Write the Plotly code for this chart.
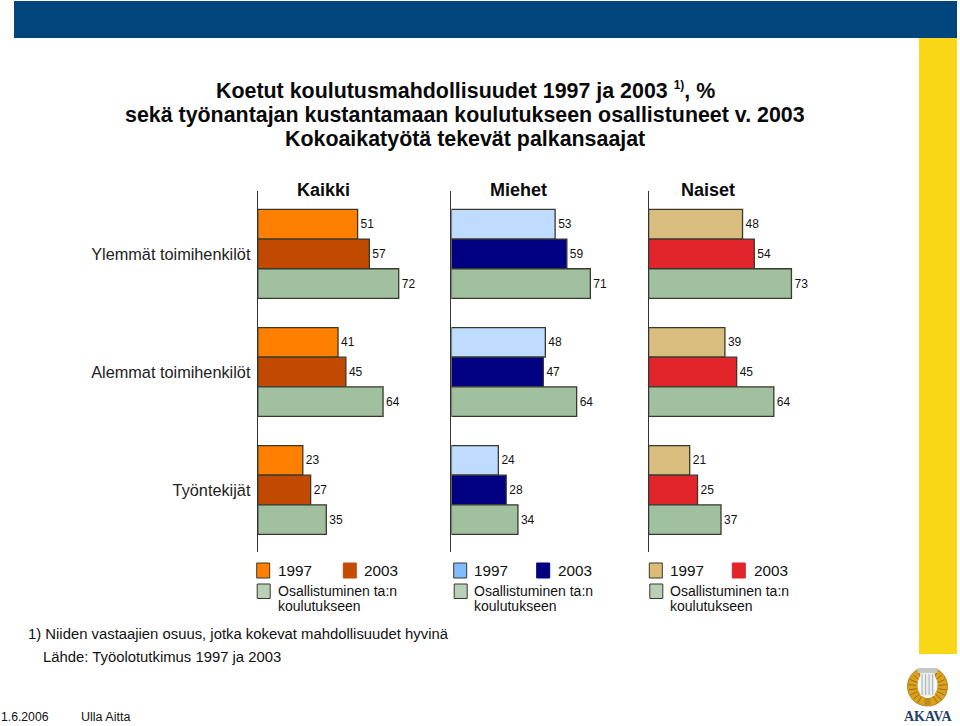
import math
import plotly.graph_objects as go

W, H = 960, 726

# ---- data ----
categories = ["Ylemmät toimihenkilöt", "Alemmat toimihenkilöt", "Työntekijät"]
groups = ["Kaikki", "Miehet", "Naiset"]
series_names = ["1997", "2003", "Osallistuminen ta:n koulutukseen"]
kaikki_1997 = [51, 41, 23]
kaikki_2003 = [57, 45, 27]
kaikki_osall = [72, 64, 35]
miehet_1997 = [53, 48, 24]
miehet_2003 = [59, 47, 28]
miehet_osall = [71, 64, 34]
naiset_1997 = [48, 39, 21]
naiset_2003 = [54, 45, 25]
naiset_osall = [73, 64, 37]

# ---- styling ----
FONT = "Liberation Sans"
GREEN = "#a0c09f"
OUTLINE = "#38392c"
panels = [
    dict(name=groups[0], x0=257.8, vals=[kaikki_1997, kaikki_2003, kaikki_osall],
         cols=["#ff8000", "#c24a00", GREEN], title_x=323.5,
         sw=["#ff8000", "#c44c02"], sx=[256.7, 343.3], tx=[276.5, 363]),
    dict(name=groups[1], x0=451.4, vals=[miehet_1997, miehet_2003, miehet_osall],
         cols=["#bfdcff", "#000080", GREEN], title_x=518.5,
         sw=["#80bcff", "#000080"], sx=[453.7, 536.7], tx=[473, 556.5]),
    dict(name=groups[2], x0=648.6, vals=[naiset_1997, naiset_2003, naiset_osall],
         cols=["#d9bd7e", "#e2242b", GREEN], title_x=708,
         sw=["#dcbc74", "#e2242b"], sx=[649.3, 732.3], tx=[669, 752.5]),
]
PX_PER_UNIT = 1.957
AXIS_TOP, AXIS_BOTTOM = 191, 552


def px(x):
    return x / W


def py(y):
    return 1 - y / H


fig = go.Figure()
layout_axes = {}
for i, p in enumerate(panels):
    suffix = "" if i == 0 else str(i + 1)
    for name, vals, col in zip(series_names, p["vals"], p["cols"]):
        fig.add_bar(
            orientation="h", y=categories, x=vals, name=name,
            xaxis="x" + suffix, yaxis="y" + suffix,
            marker=dict(color=col, line=dict(color=OUTLINE, width=1.3)),
            text=vals, textposition="outside", cliponaxis=False,
            textfont=dict(family=FONT, size=12, color="#111111"),
            showlegend=False, hoverinfo="x+y",
        )
    layout_axes["xaxis" + suffix] = dict(
        domain=[px(p["x0"]), px(p["x0"] + 100 * PX_PER_UNIT)],
        range=[0, 100], visible=False, anchor="y" + suffix, fixedrange=True,
    )
    layout_axes["yaxis" + suffix] = dict(
        domain=[py(AXIS_BOTTOM), py(AXIS_TOP)],
        type="category", categoryorder="array", categoryarray=categories,
        range=[2.525, -0.533], anchor="x" + suffix,
        showline=True, linecolor="#333333", linewidth=1.2,
        showgrid=False, zeroline=False, ticks="",
        showticklabels=(i == 0), ticklabelstandoff=3,
        tickfont=dict(family=FONT, size=16.3, color="#222222"),
        fixedrange=True,
    )

shapes = []


def rect(x0, y0, x1, y1, fill, line=None, lw=0, kind="rect", layer="below"):
    shapes.append(dict(
        type=kind, xref="paper", yref="paper",
        x0=px(x0), x1=px(x1), y0=py(y0), y1=py(y1),
        fillcolor=fill, line=dict(color=line or fill, width=lw), layer=layer,
    ))


def stroke(x0, y0, x1, y1, color, lw=1.2):
    shapes.append(dict(
        type="line", xref="paper", yref="paper",
        x0=px(x0), x1=px(x1), y0=py(y0), y1=py(y1),
        line=dict(color=color, width=lw), layer="below",
    ))


annotations = []


def label(x, y, text, size=15, anchor="left", color="#111111"):
    annotations.append(dict(
        x=px(x), y=py(y), xref="paper", yref="paper", text=text,
        showarrow=False, xanchor=anchor, yanchor="middle", align=anchor,
        font=dict(family=FONT, size=size, color=color), borderpad=0,
    ))


# page furniture
rect(14, 1, 957, 38, "#00457b")
rect(919, 38, 957, 654, "#f9d616")

# title
label(465.5, 90.5, "<b>Koetut koulutusmahdollisuudet 1997 ja 2003 <sup><span style=\"font-size:12px\">1)</span></sup>, %</b>",
      21.4, "center", "#0a0a0a")
label(465, 115, "<b>sekä työnantajan kustantamaan koulutukseen osallistuneet v. 2003</b>", 21.4, "center", "#0a0a0a")
label(465, 139, "<b>Kokoaikatyötä tekevät palkansaajat</b>", 21.4, "center", "#0a0a0a")

# panel titles and legends
for p in panels:
    label(p["title_x"], 190, "<b>" + p["name"] + "</b>", 18, "center", "#0a0a0a")
    rect(p["sx"][0], 563, p["sx"][0] + 13, 578, p["sw"][0], OUTLINE, 1)
    rect(p["sx"][1], 563, p["sx"][1] + 13, 578, p["sw"][1], p["sw"][1], 1)
    rect(p["sx"][0] + 0.5, 584, p["sx"][0] + 13.5, 598.5, "#b9cfb8", OUTLINE, 1)
    label(p["tx"][0], 570.5, series_names[0], 15.3)
    label(p["tx"][1], 570.5, series_names[1], 15.3)
    label(p["tx"][0], 591, "Osallistuminen ta:n", 14)
    label(p["tx"][0], 606, "koulutukseen", 14)

# footnotes
label(27, 634, "1) Niiden vastaajien osuus, jotka kokevat mahdollisuudet hyvinä", 14.85)
label(42, 657, "Lähde: Työolotutkimus 1997 ja 2003", 14.85)
label(-0.5, 717, "1.6.2006", 12.2)
label(79.5, 717, "Ulla Aitta", 12.5)

# AKAVA emblem
CX, CY = 927.5, 687
rect(CX - 20, CY - 20, CX + 20, CY + 19, "#d8a21e", "#b9821a", 1, "circle")
for k in range(-9, 10):
    if k == 0:
        continue
    a = math.radians(180 + k * 16.5)
    sx, sy = math.sin(a), math.cos(a)
    stroke(CX + 11 * sx, CY + 11 * sy, CX + 19 * sx, CY + 18.5 * sy, "#9c6f14", 1)
rect(CX - 10, CY - 15, CX + 10, CY + 11, "#ffffff", kind="circle")
rect(CX - 7, CY - 22, CX + 7, CY - 10, "#ffffff")
rect(CX - 7, CY - 14, CX + 7, CY + 9, "#eceeee")
for fx in (-6, -2.5, 1, 4.5):
    rect(CX + fx, CY - 13, CX + fx + 1.2, CY + 8, "#b4babf")
rect(CX - 10, CY - 19, CX + 10, CY - 14, "#c4c8c8")
rect(CX - 3, CY + 11, CX + 3, CY + 18, "#c08a1c")
label(928, 716, "<b>AKAVA</b>", 14, "center", "#1f3f66")
annotations[-1]["font"]["family"] = "Liberation Serif"

fig.update_layout(
    width=W, height=H, margin=dict(l=0, r=0, t=0, b=0),
    paper_bgcolor="white", plot_bgcolor="rgba(0,0,0,0)",
    barmode="group", bargap=0.247, bargroupgap=0,
    shapes=shapes, annotations=annotations, showlegend=False,
    **layout_axes,
)
fig.write_html("out.html", config={"displayModeBar": False},
               post_script="document.body.style.margin='0';")
